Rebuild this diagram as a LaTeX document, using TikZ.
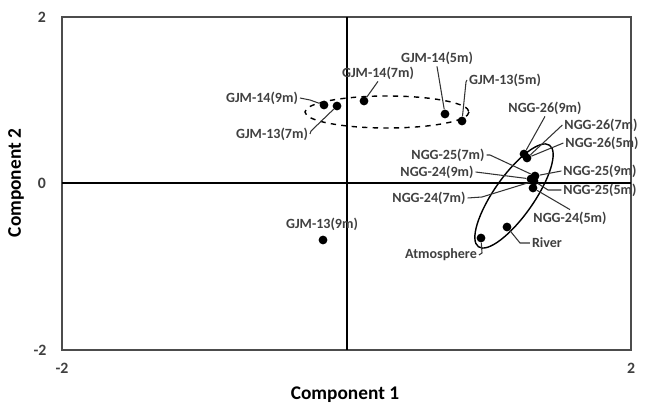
\documentclass[tikz,border=0pt]{standalone}
\usepackage{fontspec}
\setmainfont{Carlito}
\begin{document}
\begin{tikzpicture}[x=0.02cm,y=-0.02cm,
  pt/.style={circle,fill=black,inner sep=0pt,minimum size=5pt},
  lbl/.style={font=\fontsize{8}{9}\selectfont\bfseries,text=black!75,inner sep=1pt},
  lead/.style={black!80,line width=0.6pt},
  tick/.style={font=\fontsize{9}{10}\selectfont\bfseries,text=black!75}]
\useasboundingbox (0,0) rectangle (652,411);
\draw[black!70,line width=0.6pt] (62,17) rectangle (631,350);
\draw[black,line width=0.7pt] (62,183) -- (631,183);
\draw[black,line width=0.7pt] (347,17) -- (347,350);
\node[tick] (t1) at (42,17) {2};
\node[tick] (t2) at (42,183) {0};
\node[tick] (t3) at (40,350) {-2};
\node[tick] (t4) at (62,368) {-2};
\node[tick] (t5) at (631,368) {2};
\node[font=\fontsize{11}{12}\selectfont\bfseries] (xl) at (345,395) {Component 1};
\node[font=\fontsize{11}{12}\selectfont\bfseries,rotate=90] (yl) at (16,183) {Component 2};
% ellipses
\draw[dashed,line width=0.8pt] (387,112) ellipse [x radius=82,y radius=16];
\draw[line width=0.8pt,rotate around={55:(514,196)}] (514,196) ellipse [x radius=62,y radius=20];
% points
\node[pt] (a) at (324,105) {};
\node[pt] (b) at (337,106) {};
\node[pt] (c) at (364,101) {};
\node[pt] (d) at (445,114) {};
\node[pt] (e) at (462,121) {};
\node[pt] (f) at (323,240) {};
\node[pt] (g) at (524,154) {};
\node[pt] (h) at (527,158) {};
\node[pt] (i) at (531,179) {};
\node[pt] (j) at (535,176) {};
\node[pt] (k) at (534,181) {};
\node[pt] (l) at (533,188) {};
\node[pt] (m) at (507,227) {};
\node[pt] (n) at (481,238) {};
% labels
\node[lbl] (la) at (262,98) {GJM-14(9m)};
\node[lbl] (lb) at (272,134) {GJM-13(7m)};
\node[lbl] (lc) at (378,73) {GJM-14(7m)};
\node[lbl] (ld) at (437,58) {GJM-14(5m)};
\node[lbl] (le) at (505,80) {GJM-13(5m)};
\node[lbl] (lf) at (322,224) {GJM-13(9m)};
\node[lbl] (lg) at (545,108) {NGG-26(9m)};
\node[lbl] (lh) at (601,125) {NGG-26(7m)};
\node[lbl] (lh2) at (602,143) {NGG-26(5m)};
\node[lbl] (li) at (448,155) {NGG-25(7m)};
\node[lbl] (lj) at (437,172) {NGG-24(9m)};
\node[lbl] (lk) at (429,198) {NGG-24(7m)};
\node[lbl] (ll) at (600,171) {NGG-25(9m)};
\node[lbl] (lm) at (600,190) {NGG-25(5m)};
\node[lbl] (ln) at (570,218) {NGG-24(5m)};
\node[lbl] (lo) at (547,243) {River};
\node[lbl] (lp) at (441,255) {Atmosphere};
% leaders
\draw[lead] (la.east) -- (310,100) -- (a);
\draw[lead] (lb.east) -- (311,131) -- (b);
\draw[lead] (lc.south) -- (c);
\draw[lead] (ld.south) -- (d);
\draw[lead] (le.west) -- (466,82) -- (e);
\draw[lead] (lg.south) -- (g);
\draw[lead] (lh.west) -- (h);
\draw[lead] (lh2.west) -- (h);
\draw[lead] (li.east) -- (490,155) -- (j);
\draw[lead] (lj.east) -- (i);
\draw[lead] (lk.east) -- (482,197) -- (k);
\draw[lead] (ll.west) -- (j);
\draw[lead] (lm.west) -- (548,190) -- (k);
\draw[lead] (ln.north) -- (l);
\draw[lead] (lo.west) -- (520,243) -- (m);
\draw[lead] (lp.east) -- (482,253) -- (n);
\end{tikzpicture}
\end{document}
